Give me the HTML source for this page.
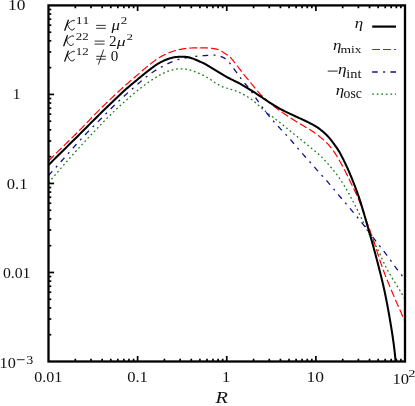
<!DOCTYPE html>
<html><head><meta charset="utf-8"><style>
html,body{margin:0;padding:0;background:#fff;}
body{width:415px;height:406px;overflow:hidden;position:relative;font-family:"Liberation Serif",serif;}
svg{position:absolute;left:0;top:0;will-change:transform;opacity:0.999;}
text{font-family:"Liberation Serif",serif;fill:#111;font-kerning:none;}
</style></head><body>
<svg width="415" height="406" viewBox="0 0 415 406">
<rect width="415" height="406" fill="#fff"/>
<defs><clipPath id="c"><rect x="48.5" y="5.4" width="356.5" height="356.1"/></clipPath></defs>
<g clip-path="url(#c)" fill="none" stroke-linejoin="round">
<path d="M48.50,182.70 L49.34,181.73 L50.17,180.75 L51.01,179.78 L51.84,178.81 L52.68,177.83 L53.51,176.86 L54.35,175.89 L55.18,174.91 L56.02,173.94 L56.85,172.97 L57.69,171.99 L58.53,171.02 L59.37,170.05 L60.20,169.08 L61.04,168.11 L61.88,167.14 L62.72,166.17 L63.56,165.20 L64.40,164.23 L65.25,163.26 L66.09,162.30 L66.94,161.33 L67.78,160.37 L68.63,159.40 L69.48,158.44 L70.33,157.48 L71.18,156.52 L72.03,155.56 L72.88,154.60 L73.74,153.64 L74.59,152.69 L75.45,151.74 L76.31,150.79 L77.18,149.84 L78.04,148.89 L78.90,147.94 L79.77,146.99 L80.64,146.05 L81.51,145.11 L82.38,144.17 L83.25,143.22 L84.13,142.29 L85.00,141.35 L85.88,140.41 L86.75,139.47 L87.63,138.54 L88.51,137.60 L89.39,136.67 L90.27,135.74 L91.15,134.80 L92.03,133.87 L92.91,132.94 L93.80,132.01 L94.68,131.08 L95.56,130.15 L96.45,129.21 L97.33,128.28 L98.21,127.36 L99.10,126.43 L99.99,125.50 L100.87,124.57 L101.76,123.65 L102.65,122.73 L103.55,121.80 L104.44,120.89 L105.34,119.97 L106.24,119.05 L107.14,118.14 L108.05,117.24 L108.96,116.33 L109.87,115.43 L110.79,114.53 L111.70,113.64 L112.63,112.74 L113.55,111.86 L114.48,110.97 L115.41,110.09 L116.35,109.21 L117.29,108.34 L118.23,107.46 L119.17,106.60 L120.12,105.73 L121.07,104.86 L122.02,104.00 L122.97,103.14 L123.93,102.29 L124.88,101.43 L125.84,100.58 L126.80,99.73 L127.76,98.88 L128.73,98.03 L129.69,97.19 L130.66,96.35 L131.63,95.51 L132.61,94.67 L133.59,93.84 L134.57,93.02 L135.55,92.19 L136.54,91.38 L137.53,90.56 L138.53,89.76 L139.54,88.96 L140.54,88.17 L141.56,87.38 L142.58,86.60 L143.60,85.82 L144.63,85.05 L145.66,84.29 L146.70,83.54 L147.74,82.79 L148.79,82.05 L149.85,81.32 L150.91,80.60 L151.97,79.89 L153.04,79.18 L154.12,78.48 L155.21,77.80 L156.30,77.13 L157.40,76.46 L158.50,75.81 L159.62,75.18 L160.74,74.56 L161.88,73.96 L163.02,73.38 L164.18,72.82 L165.34,72.28 L166.52,71.77 L167.72,71.30 L168.92,70.86 L170.14,70.46 L171.37,70.10 L172.62,69.78 L173.87,69.51 L175.13,69.28 L176.40,69.09 L177.68,68.94 L178.96,68.84 L180.24,68.79 L181.53,68.79 L182.81,68.84 L184.09,68.94 L185.37,69.08 L186.64,69.27 L187.90,69.51 L189.15,69.79 L190.39,70.12 L191.62,70.49 L192.84,70.90 L194.04,71.34 L195.24,71.79 L196.44,72.25 L197.64,72.72 L198.82,73.22 L199.99,73.73 L201.16,74.28 L202.31,74.85 L203.45,75.44 L204.58,76.04 L205.70,76.66 L206.82,77.30 L207.92,77.95 L209.01,78.62 L210.09,79.32 L211.16,80.03 L212.22,80.76 L213.27,81.48 L214.34,82.20 L215.42,82.89 L216.51,83.56 L217.62,84.21 L218.74,84.84 L219.87,85.45 L221.02,86.02 L222.18,86.56 L223.37,87.06 L224.57,87.50 L225.79,87.90 L227.02,88.26 L228.26,88.61 L229.49,88.95 L230.73,89.31 L231.96,89.67 L233.18,90.04 L234.41,90.43 L235.63,90.84 L236.84,91.27 L238.03,91.74 L239.21,92.25 L240.36,92.81 L241.49,93.40 L242.62,94.02 L243.74,94.65 L244.86,95.28 L245.98,95.91 L247.10,96.54 L248.20,97.20 L249.28,97.88 L250.34,98.60 L251.37,99.35 L252.39,100.13 L253.39,100.93 L254.38,101.75 L255.36,102.58 L256.33,103.43 L257.30,104.28 L258.27,105.13 L259.23,105.98 L260.20,106.83 L261.17,107.67 L262.15,108.50 L263.13,109.33 L264.11,110.16 L265.09,110.98 L266.08,111.79 L267.08,112.60 L268.08,113.40 L269.08,114.20 L270.09,114.99 L271.10,115.78 L272.12,116.56 L273.13,117.35 L274.15,118.13 L275.17,118.91 L276.19,119.69 L277.21,120.47 L278.22,121.25 L279.24,122.04 L280.25,122.83 L281.25,123.63 L282.26,124.43 L283.26,125.23 L284.25,126.04 L285.25,126.84 L286.24,127.66 L287.24,128.47 L288.23,129.28 L289.22,130.09 L290.22,130.90 L291.21,131.71 L292.20,132.52 L293.20,133.34 L294.19,134.15 L295.19,134.96 L296.18,135.77 L297.18,136.58 L298.17,137.39 L299.16,138.20 L300.15,139.02 L301.14,139.83 L302.13,140.65 L303.12,141.46 L304.11,142.28 L305.10,143.09 L306.10,143.91 L307.09,144.72 L308.09,145.52 L309.09,146.33 L310.09,147.13 L311.09,147.93 L312.10,148.73 L313.10,149.53 L314.10,150.34 L315.10,151.15 L316.08,151.97 L317.06,152.80 L318.03,153.64 L318.98,154.49 L319.92,155.36 L320.85,156.25 L321.77,157.15 L322.67,158.06 L323.56,158.98 L324.44,159.91 L325.32,160.85 L326.18,161.80 L327.04,162.76 L327.89,163.72 L328.73,164.69 L329.57,165.67 L330.41,166.64 L331.24,167.62 L332.06,168.61 L332.88,169.60 L333.69,170.59 L334.50,171.59 L335.29,172.60 L336.08,173.62 L336.85,174.64 L337.62,175.66 L338.37,176.70 L339.11,177.74 L339.85,178.80 L340.57,179.86 L341.28,180.92 L341.98,182.00 L342.67,183.08 L343.35,184.17 L344.02,185.26 L344.69,186.36 L345.35,187.46 L346.00,188.57 L346.64,189.68 L347.28,190.80 L347.91,191.92 L348.54,193.04 L349.16,194.16 L349.78,195.29 L350.39,196.41 L351.00,197.54 L351.61,198.68 L352.21,199.81 L352.81,200.94 L353.40,202.08 L353.99,203.22 L354.58,204.36 L355.17,205.50 L355.75,206.64 L356.33,207.79 L356.90,208.93 L357.47,210.08 L358.04,211.23 L358.61,212.38 L359.18,213.53 L359.74,214.69 L360.30,215.84 L360.86,217.00 L361.41,218.15 L361.96,219.31 L362.51,220.47 L363.06,221.63 L363.61,222.79 L364.16,223.95 L364.70,225.12 L365.25,226.28 L365.80,227.44 L366.36,228.59 L366.92,229.75 L367.49,230.90 L368.06,232.04 L368.65,233.19 L369.24,234.32 L369.85,235.45 L370.46,236.58 L371.09,237.69 L371.74,238.80 L372.39,239.91 L373.04,241.01 L373.70,242.12 L374.35,243.22 L375.00,244.33 L375.64,245.44 L376.26,246.56 L376.87,247.69 L377.46,248.83 L378.03,249.98 L378.59,251.13 L379.14,252.29 L379.68,253.45 L380.21,254.62 L380.73,255.79 L381.25,256.97 L381.77,258.14 L382.30,259.31 L382.82,260.49 L383.35,261.66 L383.88,262.82 L384.43,263.99 L384.98,265.14 L385.55,266.29 L386.13,267.44 L386.72,268.57 L387.32,269.70 L387.94,270.83 L388.57,271.95 L389.20,273.06 L389.85,274.17 L390.50,275.27 L391.16,276.38 L391.83,277.48 L392.50,278.57 L393.17,279.67 L393.85,280.76 L394.53,281.85 L395.21,282.94 L395.89,284.03 L396.57,285.12 L397.25,286.21 L397.93,287.30 L398.61,288.39 L399.28,289.49 L399.95,290.58 L400.61,291.68 L401.26,292.79 L401.91,293.89 L402.55,295.00 L403.18,296.12 L403.80,297.24 L404.40,298.37 L405.00,299.50" stroke="#127a12" stroke-width="1.28" stroke-dasharray="1.7 2.85"/>
<path d="M48.50,175.40 L49.37,174.47 L50.24,173.54 L51.11,172.61 L51.97,171.67 L52.83,170.74 L53.69,169.80 L54.55,168.85 L55.40,167.91 L56.25,166.96 L57.10,166.02 L57.95,165.07 L58.80,164.12 L59.64,163.16 L60.49,162.21 L61.33,161.26 L62.18,160.30 L63.02,159.35 L63.86,158.39 L64.70,157.43 L65.54,156.48 L66.38,155.52 L67.23,154.56 L68.07,153.61 L68.91,152.65 L69.75,151.69 L70.59,150.74 L71.44,149.78 L72.28,148.83 L73.13,147.88 L73.97,146.92 L74.82,145.97 L75.67,145.02 L76.52,144.08 L77.37,143.13 L78.23,142.19 L79.09,141.24 L79.94,140.30 L80.81,139.37 L81.67,138.43 L82.54,137.50 L83.41,136.57 L84.28,135.64 L85.15,134.72 L86.03,133.80 L86.92,132.88 L87.80,131.97 L88.69,131.05 L89.58,130.15 L90.48,129.24 L91.37,128.33 L92.27,127.43 L93.17,126.53 L94.07,125.63 L94.97,124.73 L95.87,123.83 L96.78,122.93 L97.68,122.03 L98.58,121.13 L99.48,120.23 L100.37,119.32 L101.27,118.42 L102.16,117.51 L103.06,116.61 L103.95,115.70 L104.85,114.79 L105.74,113.88 L106.64,112.98 L107.53,112.07 L108.43,111.17 L109.33,110.27 L110.23,109.37 L111.13,108.47 L112.04,107.58 L112.95,106.69 L113.86,105.80 L114.78,104.91 L115.69,104.03 L116.61,103.15 L117.54,102.27 L118.46,101.39 L119.39,100.52 L120.31,99.65 L121.25,98.78 L122.18,97.91 L123.12,97.05 L124.06,96.19 L125.00,95.34 L125.95,94.49 L126.90,93.64 L127.85,92.80 L128.81,91.96 L129.77,91.12 L130.73,90.28 L131.69,89.45 L132.65,88.61 L133.61,87.77 L134.57,86.93 L135.53,86.10 L136.48,85.26 L137.44,84.41 L138.39,83.57 L139.35,82.72 L140.30,81.88 L141.26,81.04 L142.22,80.20 L143.19,79.37 L144.16,78.54 L145.14,77.73 L146.13,76.93 L147.13,76.14 L148.14,75.36 L149.16,74.60 L150.19,73.86 L151.24,73.14 L152.30,72.43 L153.36,71.73 L154.44,71.05 L155.53,70.38 L156.62,69.73 L157.72,69.08 L158.82,68.44 L159.93,67.81 L161.04,67.19 L162.16,66.58 L163.28,65.98 L164.41,65.39 L165.54,64.80 L166.67,64.23 L167.82,63.67 L168.97,63.12 L170.12,62.59 L171.29,62.07 L172.47,61.58 L173.65,61.11 L174.85,60.67 L176.05,60.25 L177.26,59.85 L178.48,59.49 L179.71,59.16 L180.95,58.85 L182.19,58.57 L183.44,58.31 L184.69,58.06 L185.94,57.82 L187.19,57.59 L188.45,57.37 L189.70,57.16 L190.96,56.96 L192.22,56.78 L193.48,56.61 L194.75,56.47 L196.01,56.33 L197.28,56.21 L198.55,56.10 L199.82,55.99 L201.09,55.89 L202.36,55.79 L203.63,55.70 L204.90,55.60 L206.17,55.52 L207.44,55.43 L208.71,55.35 L209.98,55.28 L211.26,55.21 L212.53,55.17 L213.80,55.16 L215.07,55.20 L216.34,55.31 L217.61,55.50 L218.86,55.76 L220.09,56.10 L221.29,56.54 L222.46,57.05 L223.59,57.65 L224.66,58.33 L225.69,59.09 L226.67,59.91 L227.61,60.78 L228.50,61.70 L229.35,62.66 L230.16,63.64 L230.95,64.65 L231.71,65.67 L232.45,66.70 L233.18,67.74 L233.92,68.78 L234.65,69.82 L235.40,70.85 L236.14,71.89 L236.89,72.91 L237.65,73.94 L238.41,74.96 L239.16,75.99 L239.92,77.01 L240.69,78.03 L241.46,79.04 L242.23,80.05 L243.01,81.06 L243.80,82.06 L244.61,83.05 L245.42,84.03 L246.23,85.01 L247.05,85.99 L247.85,86.97 L248.65,87.96 L249.44,88.96 L250.21,89.98 L250.97,91.00 L251.71,92.03 L252.45,93.07 L253.17,94.11 L253.90,95.16 L254.61,96.22 L255.32,97.27 L256.04,98.33 L256.75,99.39 L257.46,100.45 L258.18,101.50 L258.90,102.55 L259.63,103.59 L260.37,104.63 L261.11,105.67 L261.86,106.70 L262.62,107.72 L263.38,108.74 L264.15,109.76 L264.93,110.77 L265.71,111.77 L266.50,112.77 L267.29,113.77 L268.09,114.76 L268.90,115.74 L269.71,116.72 L270.53,117.70 L271.35,118.67 L272.18,119.64 L273.01,120.60 L273.85,121.56 L274.70,122.52 L275.54,123.47 L276.40,124.41 L277.25,125.36 L278.11,126.29 L278.98,127.23 L279.85,128.16 L280.72,129.09 L281.60,130.01 L282.48,130.94 L283.35,131.86 L284.23,132.78 L285.11,133.71 L285.98,134.64 L286.85,135.57 L287.71,136.50 L288.57,137.44 L289.42,138.39 L290.26,139.35 L291.09,140.31 L291.92,141.28 L292.74,142.25 L293.56,143.23 L294.37,144.20 L295.19,145.18 L296.00,146.16 L296.82,147.14 L297.64,148.12 L298.46,149.09 L299.28,150.06 L300.11,151.03 L300.95,151.99 L301.79,152.94 L302.64,153.89 L303.49,154.84 L304.34,155.79 L305.19,156.73 L306.05,157.68 L306.90,158.63 L307.75,159.57 L308.60,160.52 L309.45,161.47 L310.30,162.42 L311.14,163.38 L311.98,164.33 L312.82,165.29 L313.66,166.25 L314.50,167.21 L315.34,168.16 L316.18,169.12 L317.02,170.07 L317.87,171.03 L318.72,171.97 L319.57,172.92 L320.43,173.86 L321.28,174.80 L322.14,175.74 L323.00,176.68 L323.86,177.62 L324.72,178.57 L325.57,179.51 L326.41,180.47 L327.25,181.42 L328.09,182.39 L328.92,183.35 L329.74,184.32 L330.56,185.29 L331.38,186.27 L332.20,187.25 L333.01,188.22 L333.83,189.20 L334.64,190.19 L335.45,191.17 L336.26,192.15 L337.08,193.13 L337.89,194.11 L338.71,195.09 L339.53,196.06 L340.35,197.04 L341.17,198.01 L341.99,198.98 L342.82,199.95 L343.64,200.92 L344.47,201.89 L345.29,202.86 L346.12,203.83 L346.95,204.80 L347.77,205.77 L348.60,206.74 L349.42,207.71 L350.25,208.68 L351.07,209.65 L351.89,210.62 L352.71,211.60 L353.53,212.57 L354.35,213.55 L355.16,214.53 L355.97,215.51 L356.78,216.49 L357.59,217.48 L358.39,218.47 L359.19,219.46 L359.98,220.45 L360.77,221.45 L361.56,222.45 L362.35,223.45 L363.13,224.46 L363.91,225.46 L364.69,226.47 L365.46,227.48 L366.24,228.49 L367.01,229.51 L367.78,230.52 L368.55,231.53 L369.32,232.55 L370.09,233.56 L370.86,234.58 L371.63,235.59 L372.40,236.60 L373.17,237.62 L373.95,238.63 L374.72,239.64 L375.50,240.65 L376.27,241.66 L377.05,242.67 L377.84,243.67 L378.62,244.68 L379.41,245.68 L380.19,246.68 L380.98,247.68 L381.77,248.68 L382.56,249.68 L383.34,250.69 L384.12,251.69 L384.90,252.70 L385.67,253.71 L386.44,254.73 L387.21,255.74 L387.96,256.77 L388.72,257.79 L389.47,258.82 L390.22,259.85 L390.96,260.89 L391.70,261.92 L392.45,262.96 L393.19,263.99 L393.94,265.02 L394.68,266.05 L395.43,267.08 L396.19,268.11 L396.95,269.13 L397.71,270.15 L398.49,271.16 L399.26,272.17 L400.05,273.17 L400.85,274.16 L401.66,275.15 L402.47,276.12 L403.30,277.09 L404.14,278.05 L405.00,279.00" stroke="#10108c" stroke-width="1.3" stroke-dasharray="5.6 5.3 2 5.3"/>
<path d="M48.50,161.00 L49.46,160.00 L50.43,159.01 L51.40,158.02 L52.37,157.03 L53.35,156.05 L54.33,155.07 L55.31,154.09 L56.29,153.12 L57.28,152.14 L58.27,151.17 L59.25,150.20 L60.24,149.23 L61.24,148.26 L62.23,147.29 L63.22,146.33 L64.22,145.36 L65.21,144.40 L66.20,143.43 L67.20,142.47 L68.19,141.50 L69.18,140.53 L70.17,139.56 L71.17,138.60 L72.16,137.63 L73.14,136.65 L74.13,135.68 L75.11,134.71 L76.10,133.73 L77.08,132.75 L78.05,131.77 L79.03,130.78 L80.00,129.79 L80.97,128.80 L81.93,127.81 L82.90,126.81 L83.86,125.81 L84.82,124.81 L85.78,123.81 L86.73,122.81 L87.69,121.81 L88.65,120.81 L89.61,119.81 L90.57,118.81 L91.53,117.81 L92.49,116.81 L93.45,115.81 L94.42,114.82 L95.39,113.83 L96.36,112.84 L97.33,111.86 L98.31,110.88 L99.29,109.90 L100.28,108.93 L101.27,107.96 L102.27,106.99 L103.26,106.03 L104.26,105.07 L105.27,104.12 L106.27,103.16 L107.27,102.21 L108.28,101.25 L109.28,100.29 L110.28,99.34 L111.28,98.38 L112.29,97.42 L113.29,96.47 L114.30,95.51 L115.30,94.56 L116.31,93.61 L117.32,92.66 L118.33,91.71 L119.35,90.77 L120.37,89.83 L121.39,88.89 L122.41,87.96 L123.44,87.03 L124.47,86.11 L125.51,85.19 L126.55,84.28 L127.60,83.37 L128.65,82.46 L129.70,81.56 L130.75,80.66 L131.80,79.76 L132.85,78.86 L133.91,77.96 L134.96,77.06 L136.01,76.15 L137.06,75.25 L138.11,74.34 L139.15,73.43 L140.20,72.52 L141.24,71.61 L142.29,70.70 L143.34,69.79 L144.39,68.89 L145.44,67.99 L146.50,67.10 L147.57,66.21 L148.64,65.33 L149.72,64.46 L150.81,63.60 L151.90,62.76 L153.01,61.92 L154.12,61.10 L155.25,60.29 L156.39,59.51 L157.55,58.74 L158.72,57.99 L159.90,57.27 L161.09,56.56 L162.30,55.89 L163.53,55.24 L164.77,54.62 L166.02,54.03 L167.29,53.47 L168.57,52.93 L169.86,52.42 L171.16,51.94 L172.47,51.49 L173.79,51.06 L175.12,50.65 L176.45,50.28 L177.79,49.94 L179.14,49.62 L180.50,49.34 L181.86,49.09 L183.23,48.86 L184.60,48.65 L185.98,48.47 L187.35,48.32 L188.73,48.18 L190.11,48.07 L191.50,47.98 L192.88,47.91 L194.26,47.86 L195.65,47.83 L197.03,47.81 L198.42,47.80 L199.81,47.80 L201.20,47.80 L202.58,47.81 L203.97,47.83 L205.36,47.86 L206.74,47.92 L208.12,47.99 L209.50,48.09 L210.88,48.22 L212.25,48.38 L213.63,48.57 L215.00,48.80 L216.37,49.07 L217.72,49.40 L219.03,49.85 L220.28,50.42 L221.47,51.12 L222.63,51.88 L223.79,52.66 L224.97,53.42 L226.15,54.16 L227.31,54.92 L228.44,55.71 L229.51,56.58 L230.50,57.53 L231.44,58.54 L232.34,59.60 L233.21,60.69 L234.07,61.79 L234.94,62.89 L235.80,63.98 L236.66,65.06 L237.51,66.15 L238.36,67.24 L239.20,68.34 L240.03,69.44 L240.86,70.56 L241.69,71.67 L242.52,72.78 L243.36,73.88 L244.21,74.97 L245.09,76.05 L245.97,77.11 L246.87,78.17 L247.76,79.23 L248.66,80.29 L249.54,81.35 L250.42,82.43 L251.29,83.50 L252.17,84.58 L253.04,85.66 L253.91,86.74 L254.78,87.81 L255.67,88.88 L256.56,89.94 L257.46,90.99 L258.38,92.03 L259.31,93.05 L260.26,94.06 L261.22,95.06 L262.20,96.04 L263.19,97.01 L264.19,97.97 L265.21,98.91 L266.24,99.84 L267.27,100.76 L268.32,101.67 L269.38,102.58 L270.44,103.47 L271.51,104.35 L272.59,105.22 L273.67,106.08 L274.77,106.93 L275.87,107.78 L276.97,108.61 L278.09,109.43 L279.21,110.25 L280.34,111.05 L281.47,111.85 L282.61,112.64 L283.75,113.42 L284.90,114.19 L286.06,114.96 L287.21,115.73 L288.37,116.49 L289.53,117.25 L290.69,118.01 L291.85,118.77 L293.01,119.52 L294.18,120.27 L295.35,121.01 L296.52,121.75 L297.70,122.47 L298.89,123.19 L300.08,123.90 L301.27,124.60 L302.47,125.29 L303.68,125.98 L304.88,126.67 L306.08,127.37 L307.27,128.07 L308.46,128.78 L309.64,129.51 L310.80,130.25 L311.96,131.01 L313.11,131.79 L314.25,132.58 L315.38,133.39 L316.49,134.21 L317.60,135.04 L318.70,135.89 L319.79,136.75 L320.87,137.62 L321.94,138.51 L323.00,139.42 L324.04,140.34 L325.06,141.28 L326.06,142.23 L327.05,143.21 L328.00,144.21 L328.94,145.23 L329.85,146.27 L330.73,147.34 L331.59,148.43 L332.42,149.53 L333.24,150.65 L334.03,151.79 L334.81,152.94 L335.57,154.10 L336.32,155.28 L337.05,156.46 L337.77,157.65 L338.48,158.85 L339.18,160.05 L339.87,161.25 L340.55,162.46 L341.22,163.67 L341.89,164.89 L342.55,166.11 L343.20,167.33 L343.84,168.56 L344.48,169.79 L345.11,171.02 L345.73,172.26 L346.35,173.50 L346.96,174.74 L347.57,175.99 L348.17,177.23 L348.77,178.48 L349.38,179.73 L349.98,180.97 L350.59,182.22 L351.21,183.46 L351.82,184.71 L352.43,185.95 L353.04,187.19 L353.65,188.44 L354.25,189.69 L354.85,190.94 L355.44,192.19 L356.02,193.45 L356.58,194.71 L357.14,195.98 L357.69,197.25 L358.22,198.53 L358.74,199.81 L359.25,201.10 L359.76,202.39 L360.25,203.68 L360.74,204.98 L361.23,206.28 L361.70,207.58 L362.18,208.88 L362.65,210.19 L363.11,211.50 L363.58,212.80 L364.04,214.11 L364.50,215.42 L364.96,216.73 L365.43,218.03 L365.89,219.34 L366.36,220.64 L366.83,221.95 L367.30,223.25 L367.78,224.56 L368.25,225.86 L368.72,227.16 L369.20,228.46 L369.67,229.77 L370.14,231.07 L370.61,232.37 L371.08,233.67 L371.55,234.98 L372.01,236.28 L372.47,237.59 L372.93,238.90 L373.38,240.21 L373.83,241.52 L374.28,242.83 L374.71,244.14 L375.15,245.46 L375.58,246.78 L376.00,248.09 L376.43,249.41 L376.85,250.73 L377.27,252.06 L377.69,253.38 L378.11,254.70 L378.53,256.02 L378.95,257.34 L379.38,258.66 L379.80,259.97 L380.24,261.29 L380.67,262.61 L381.11,263.92 L381.56,265.23 L382.01,266.54 L382.48,267.85 L382.94,269.15 L383.42,270.45 L383.90,271.75 L384.39,273.05 L384.88,274.34 L385.38,275.63 L385.89,276.92 L386.40,278.21 L386.91,279.50 L387.43,280.79 L387.95,282.07 L388.48,283.35 L389.01,284.63 L389.54,285.91 L390.08,287.19 L390.61,288.47 L391.15,289.75 L391.69,291.02 L392.24,292.30 L392.78,293.57 L393.33,294.85 L393.87,296.12 L394.42,297.39 L394.97,298.66 L395.52,299.94 L396.07,301.21 L396.62,302.48 L397.18,303.75 L397.73,305.02 L398.29,306.29 L398.84,307.56 L399.40,308.83 L399.96,310.09 L400.52,311.36 L401.08,312.63 L401.63,313.90 L402.19,315.16 L402.75,316.43 L403.32,317.70 L403.88,318.97 L404.44,320.23 L405.00,321.50" stroke="#ff0000" stroke-width="1.18" stroke-dasharray="7.8 3.0"/>
<path d="M48.50,165.00 L49.53,163.97 L50.56,162.95 L51.59,161.93 L52.62,160.90 L53.65,159.88 L54.68,158.86 L55.72,157.84 L56.75,156.82 L57.78,155.80 L58.82,154.78 L59.85,153.76 L60.89,152.74 L61.92,151.73 L62.96,150.71 L63.99,149.69 L65.03,148.67 L66.07,147.65 L67.10,146.63 L68.14,145.62 L69.17,144.60 L70.21,143.58 L71.24,142.56 L72.27,141.54 L73.31,140.52 L74.34,139.50 L75.38,138.48 L76.41,137.46 L77.44,136.44 L78.47,135.41 L79.50,134.39 L80.53,133.37 L81.56,132.34 L82.59,131.31 L83.61,130.29 L84.64,129.26 L85.66,128.23 L86.69,127.20 L87.71,126.17 L88.73,125.14 L89.76,124.11 L90.78,123.08 L91.81,122.05 L92.83,121.02 L93.86,119.99 L94.88,118.97 L95.91,117.94 L96.94,116.92 L97.97,115.90 L99.01,114.88 L100.04,113.86 L101.08,112.84 L102.12,111.83 L103.16,110.82 L104.21,109.81 L105.25,108.80 L106.30,107.80 L107.35,106.79 L108.39,105.78 L109.44,104.78 L110.49,103.77 L111.54,102.77 L112.59,101.76 L113.63,100.76 L114.68,99.75 L115.73,98.74 L116.77,97.73 L117.82,96.73 L118.87,95.72 L119.92,94.72 L120.98,93.73 L122.04,92.74 L123.11,91.75 L124.18,90.77 L125.27,89.81 L126.35,88.85 L127.45,87.89 L128.55,86.95 L129.66,86.01 L130.77,85.07 L131.88,84.14 L133.00,83.21 L134.12,82.28 L135.24,81.36 L136.36,80.43 L137.48,79.51 L138.59,78.58 L139.71,77.65 L140.83,76.73 L141.95,75.80 L143.07,74.88 L144.20,73.96 L145.33,73.05 L146.46,72.14 L147.60,71.24 L148.74,70.34 L149.89,69.45 L151.04,68.57 L152.21,67.70 L153.38,66.84 L154.57,66.01 L155.77,65.19 L156.99,64.41 L158.23,63.65 L159.49,62.91 L160.76,62.21 L162.05,61.54 L163.35,60.90 L164.67,60.29 L166.01,59.72 L167.36,59.19 L168.73,58.70 L170.12,58.27 L171.52,57.89 L172.94,57.57 L174.37,57.30 L175.80,57.09 L177.25,56.92 L178.69,56.81 L180.15,56.73 L181.60,56.70 L183.05,56.70 L184.51,56.76 L185.95,56.89 L187.39,57.11 L188.81,57.39 L190.23,57.75 L191.62,58.16 L193.00,58.63 L194.36,59.14 L195.70,59.69 L197.02,60.28 L198.35,60.88 L199.67,61.49 L201.00,62.07 L202.33,62.66 L203.64,63.27 L204.94,63.93 L206.21,64.63 L207.46,65.37 L208.69,66.13 L209.93,66.90 L211.16,67.67 L212.40,68.44 L213.63,69.20 L214.87,69.96 L216.11,70.71 L217.35,71.47 L218.59,72.22 L219.84,72.96 L221.09,73.70 L222.34,74.44 L223.60,75.17 L224.86,75.89 L226.13,76.60 L227.40,77.30 L228.68,77.98 L229.97,78.65 L231.27,79.30 L232.57,79.94 L233.88,80.58 L235.18,81.22 L236.48,81.86 L237.78,82.52 L239.07,83.18 L240.35,83.87 L241.62,84.57 L242.88,85.29 L244.13,86.03 L245.38,86.77 L246.62,87.53 L247.86,88.29 L249.09,89.06 L250.32,89.83 L251.55,90.60 L252.78,91.38 L254.00,92.17 L255.22,92.95 L256.44,93.75 L257.65,94.54 L258.86,95.34 L260.07,96.15 L261.28,96.95 L262.49,97.76 L263.69,98.57 L264.90,99.38 L266.11,100.19 L267.32,100.99 L268.53,101.79 L269.75,102.58 L270.97,103.37 L272.19,104.15 L273.43,104.92 L274.66,105.68 L275.91,106.42 L277.16,107.16 L278.42,107.88 L279.69,108.59 L280.96,109.29 L282.25,109.97 L283.54,110.63 L284.83,111.29 L286.13,111.93 L287.44,112.57 L288.75,113.20 L290.06,113.82 L291.38,114.43 L292.70,115.04 L294.02,115.65 L295.34,116.25 L296.66,116.85 L297.98,117.45 L299.30,118.06 L300.62,118.66 L301.94,119.27 L303.26,119.88 L304.57,120.49 L305.88,121.12 L307.19,121.75 L308.49,122.39 L309.79,123.05 L311.08,123.72 L312.37,124.41 L313.64,125.12 L314.90,125.85 L316.14,126.61 L317.36,127.39 L318.55,128.21 L319.73,129.06 L320.88,129.95 L322.00,130.87 L323.11,131.81 L324.20,132.78 L325.27,133.76 L326.31,134.77 L327.34,135.80 L328.33,136.86 L329.30,137.94 L330.23,139.05 L331.14,140.19 L332.03,141.34 L332.90,142.50 L333.76,143.67 L334.62,144.85 L335.47,146.03 L336.31,147.21 L337.13,148.41 L337.93,149.62 L338.71,150.85 L339.45,152.09 L340.17,153.35 L340.87,154.63 L341.54,155.91 L342.20,157.21 L342.86,158.51 L343.50,159.81 L344.14,161.11 L344.78,162.42 L345.41,163.73 L346.03,165.04 L346.64,166.35 L347.25,167.67 L347.84,169.00 L348.43,170.33 L349.01,171.66 L349.59,172.99 L350.15,174.33 L350.71,175.67 L351.27,177.01 L351.82,178.36 L352.36,179.70 L352.90,181.05 L353.44,182.40 L353.97,183.76 L354.49,185.11 L355.02,186.47 L355.53,187.82 L356.04,189.18 L356.54,190.55 L357.04,191.91 L357.53,193.28 L358.01,194.65 L358.49,196.02 L358.96,197.39 L359.42,198.77 L359.88,200.15 L360.33,201.53 L360.77,202.91 L361.20,204.30 L361.63,205.69 L362.05,207.08 L362.47,208.47 L362.88,209.86 L363.29,211.25 L363.70,212.65 L364.11,214.04 L364.51,215.44 L364.91,216.83 L365.31,218.23 L365.71,219.63 L366.11,221.02 L366.51,222.42 L366.91,223.82 L367.31,225.21 L367.71,226.61 L368.11,228.00 L368.50,229.40 L368.90,230.80 L369.30,232.19 L369.70,233.59 L370.10,234.99 L370.49,236.38 L370.89,237.78 L371.28,239.18 L371.67,240.58 L372.07,241.97 L372.45,243.37 L372.84,244.77 L373.23,246.17 L373.61,247.57 L373.99,248.98 L374.37,250.38 L374.75,251.78 L375.13,253.18 L375.50,254.58 L375.87,255.99 L376.25,257.39 L376.62,258.80 L376.98,260.20 L377.35,261.61 L377.72,263.01 L378.08,264.42 L378.44,265.82 L378.80,267.23 L379.16,268.64 L379.52,270.05 L379.88,271.45 L380.23,272.86 L380.58,274.27 L380.93,275.68 L381.28,277.09 L381.63,278.50 L381.97,279.91 L382.31,281.33 L382.64,282.74 L382.97,284.15 L383.30,285.57 L383.62,286.98 L383.94,288.40 L384.25,289.82 L384.56,291.24 L384.86,292.66 L385.16,294.08 L385.45,295.50 L385.74,296.92 L386.02,298.35 L386.31,299.77 L386.58,301.20 L386.86,302.62 L387.13,304.05 L387.40,305.48 L387.66,306.91 L387.93,308.34 L388.19,309.76 L388.45,311.19 L388.70,312.62 L388.96,314.05 L389.21,315.48 L389.46,316.91 L389.71,318.35 L389.96,319.78 L390.20,321.21 L390.45,322.64 L390.69,324.07 L390.93,325.50 L391.16,326.94 L391.40,328.37 L391.62,329.81 L391.85,331.24 L392.07,332.67 L392.29,334.11 L392.51,335.55 L392.72,336.98 L392.93,338.42 L393.14,339.86 L393.34,341.29 L393.53,342.73 L393.72,344.17 L393.91,345.61 L394.09,347.05 L394.27,348.49 L394.44,349.94 L394.60,351.38 L394.76,352.82 L394.92,354.27 L395.07,355.71 L395.21,357.16 L395.35,358.60 L395.48,360.05 L395.60,361.50" stroke="#000" stroke-width="2.05"/>
</g>
<g stroke="#000" stroke-width="1.7" fill="none">
<path d="M75.33,361.5 v-2.8 M75.33,5.4 v2.8"/>
<path d="M48.5,334.70 h2.8"/>
<path d="M91.02,361.5 v-2.8 M91.02,5.4 v2.8"/>
<path d="M48.5,319.02 h2.8"/>
<path d="M102.16,361.5 v-2.8 M102.16,5.4 v2.8"/>
<path d="M48.5,307.90 h2.8"/>
<path d="M110.80,361.5 v-2.8 M110.80,5.4 v2.8"/>
<path d="M48.5,299.27 h2.8"/>
<path d="M117.85,361.5 v-2.8 M117.85,5.4 v2.8"/>
<path d="M48.5,292.23 h2.8"/>
<path d="M123.82,361.5 v-2.8 M123.82,5.4 v2.8"/>
<path d="M48.5,286.27 h2.8"/>
<path d="M128.99,361.5 v-2.8 M128.99,5.4 v2.8"/>
<path d="M48.5,281.10 h2.8"/>
<path d="M133.55,361.5 v-2.8 M133.55,5.4 v2.8"/>
<path d="M48.5,276.55 h2.8"/>
<path d="M137.62,361.5 v-5.6 M137.62,5.4 v5.6"/>
<path d="M48.5,272.48 h5.6"/>
<path d="M164.45,361.5 v-2.8 M164.45,5.4 v2.8"/>
<path d="M48.5,245.68 h2.8"/>
<path d="M180.15,361.5 v-2.8 M180.15,5.4 v2.8"/>
<path d="M48.5,230.00 h2.8"/>
<path d="M191.28,361.5 v-2.8 M191.28,5.4 v2.8"/>
<path d="M48.5,218.88 h2.8"/>
<path d="M199.92,361.5 v-2.8 M199.92,5.4 v2.8"/>
<path d="M48.5,210.25 h2.8"/>
<path d="M206.98,361.5 v-2.8 M206.98,5.4 v2.8"/>
<path d="M48.5,203.20 h2.8"/>
<path d="M212.94,361.5 v-2.8 M212.94,5.4 v2.8"/>
<path d="M48.5,197.24 h2.8"/>
<path d="M218.11,361.5 v-2.8 M218.11,5.4 v2.8"/>
<path d="M48.5,192.08 h2.8"/>
<path d="M222.67,361.5 v-2.8 M222.67,5.4 v2.8"/>
<path d="M48.5,187.52 h2.8"/>
<path d="M226.75,361.5 v-5.6 M226.75,5.4 v5.6"/>
<path d="M48.5,183.45 h5.6"/>
<path d="M253.58,361.5 v-2.8 M253.58,5.4 v2.8"/>
<path d="M48.5,156.65 h2.8"/>
<path d="M269.27,361.5 v-2.8 M269.27,5.4 v2.8"/>
<path d="M48.5,140.97 h2.8"/>
<path d="M280.41,361.5 v-2.8 M280.41,5.4 v2.8"/>
<path d="M48.5,129.85 h2.8"/>
<path d="M289.05,361.5 v-2.8 M289.05,5.4 v2.8"/>
<path d="M48.5,121.22 h2.8"/>
<path d="M296.10,361.5 v-2.8 M296.10,5.4 v2.8"/>
<path d="M48.5,114.18 h2.8"/>
<path d="M302.07,361.5 v-2.8 M302.07,5.4 v2.8"/>
<path d="M48.5,108.22 h2.8"/>
<path d="M307.24,361.5 v-2.8 M307.24,5.4 v2.8"/>
<path d="M48.5,103.05 h2.8"/>
<path d="M311.80,361.5 v-2.8 M311.80,5.4 v2.8"/>
<path d="M48.5,98.50 h2.8"/>
<path d="M315.88,361.5 v-5.6 M315.88,5.4 v5.6"/>
<path d="M48.5,94.42 h5.6"/>
<path d="M342.70,361.5 v-2.8 M342.70,5.4 v2.8"/>
<path d="M48.5,67.63 h2.8"/>
<path d="M358.40,361.5 v-2.8 M358.40,5.4 v2.8"/>
<path d="M48.5,51.95 h2.8"/>
<path d="M369.53,361.5 v-2.8 M369.53,5.4 v2.8"/>
<path d="M48.5,40.83 h2.8"/>
<path d="M378.17,361.5 v-2.8 M378.17,5.4 v2.8"/>
<path d="M48.5,32.20 h2.8"/>
<path d="M385.23,361.5 v-2.8 M385.23,5.4 v2.8"/>
<path d="M48.5,25.15 h2.8"/>
<path d="M391.19,361.5 v-2.8 M391.19,5.4 v2.8"/>
<path d="M48.5,19.19 h2.8"/>
<path d="M396.36,361.5 v-2.8 M396.36,5.4 v2.8"/>
<path d="M48.5,14.03 h2.8"/>
<path d="M400.92,361.5 v-2.8 M400.92,5.4 v2.8"/>
<path d="M48.5,9.47 h2.8"/>
</g>
<rect x="48.5" y="5.4" width="356.5" height="356.1" fill="none" stroke="#000" stroke-width="2.3"/>
<!-- legend -->
<g fill="none">
<path d="M372.2,26.6 H396" stroke="#000" stroke-width="2.2"/>
<path d="M372.2,49.5 H396" stroke="#ff0000" stroke-width="1.18" stroke-dasharray="7.8 3.0"/>
<path d="M372.2,72.0 H396" stroke="#10108c" stroke-width="1.3" stroke-dasharray="5.6 5.3 2 5.3"/>
<path d="M372.2,94.1 H396" stroke="#127a12" stroke-width="1.28" stroke-dasharray="1.7 2.85"/>
</g>
<!-- tick labels -->
<text transform="translate(7.97,10.0) scale(1.216,1)" font-size="14.30">10</text>
<text transform="translate(12.75,98.9) scale(1.073,1)" font-size="14.30">1</text>
<text transform="translate(6.77,188.6) scale(1.166,1)" font-size="14.30">0.1</text>
<text transform="translate(2.90,277.9) scale(1.105,1)" font-size="14.30">0.01</text>
<text transform="translate(-0.43,368.3) scale(1.136,1)" font-size="14.30">10</text>
<path d="M16.9,359.7 H24.6" stroke="#111" stroke-width="0.9"/>
<text transform="translate(26.33,363.5) scale(1.192,1)" font-size="11.78">3</text>
<text transform="translate(34.29,381.9) scale(1.122,1)" font-size="14.30">0.01</text>
<text transform="translate(127.17,381.9) scale(1.160,1)" font-size="14.30">0.1</text>
<text transform="translate(222.05,381.9) scale(1.152,1)" font-size="14.30">1</text>
<text transform="translate(306.46,382.1) scale(1.224,1)" font-size="14.30">10</text>
<text transform="translate(392.44,384.0) scale(1.160,1)" font-size="14.30">10</text>
<text transform="translate(408.16,377.3) scale(1.330,1)" font-size="10.87">2</text>
<text transform="translate(215.51,403.4) scale(1.281,1)" font-size="15.88" font-style="italic">R</text>
<text transform="translate(354.70,28.4) scale(1.248,1)" font-size="13.58" font-style="italic">η</text>
<text transform="translate(332.90,50.0) scale(1.229,1)" font-size="13.79" font-style="italic">η</text>
<text transform="translate(340.52,53.4) scale(1.262,1)" font-size="10.72">mix</text>
<path d="M327.7,71.1 H337.7" stroke="#111" stroke-width="0.9"/>
<text transform="translate(338.08,74.2) scale(1.263,1)" font-size="13.79" font-style="italic">η</text>
<text transform="translate(346.30,77.6) scale(1.121,1)" font-size="12.84">int</text>
<text transform="translate(335.80,94.7) scale(1.229,1)" font-size="13.79" font-style="italic">η</text>
<text transform="translate(343.58,98.0) scale(0.977,1)" font-size="14.01">osc</text>
<g transform="translate(64.4,30.3)" fill="none" stroke="#111" stroke-linecap="round" stroke-linejoin="round"><path d="M3.9,-10.1 L0.4,-0.1" stroke-width="1.35"/><path d="M2.3,-5.2 C4.6,-7.2 7.4,-10.1 9.6,-10.1 C10.3,-10.1 10.2,-9.4 9.8,-9.1" stroke-width="0.9"/><path d="M3.1,-6.0 C4.0,-3.0 5.6,-0.3 7.8,-0.3 C8.9,-0.3 9.6,-1.0 9.9,-1.9" stroke-width="1.0"/></g>
<text transform="translate(75.70,24.1) scale(1.427,1)" font-size="9.54">11</text>
<g transform="translate(63.4,45.8)" fill="none" stroke="#111" stroke-linecap="round" stroke-linejoin="round"><path d="M3.9,-10.1 L0.4,-0.1" stroke-width="1.35"/><path d="M2.3,-5.2 C4.6,-7.2 7.4,-10.1 9.6,-10.1 C10.3,-10.1 10.2,-9.4 9.8,-9.1" stroke-width="0.9"/><path d="M3.1,-6.0 C4.0,-3.0 5.6,-0.3 7.8,-0.3 C8.9,-0.3 9.6,-1.0 9.9,-1.9" stroke-width="1.0"/></g>
<text transform="translate(75.73,39.599999999999994) scale(1.353,1)" font-size="9.52">22</text>
<g transform="translate(64.4,61.2)" fill="none" stroke="#111" stroke-linecap="round" stroke-linejoin="round"><path d="M3.9,-10.1 L0.4,-0.1" stroke-width="1.35"/><path d="M2.3,-5.2 C4.6,-7.2 7.4,-10.1 9.6,-10.1 C10.3,-10.1 10.2,-9.4 9.8,-9.1" stroke-width="0.9"/><path d="M3.1,-6.0 C4.0,-3.0 5.6,-0.3 7.8,-0.3 C8.9,-0.3 9.6,-1.0 9.9,-1.9" stroke-width="1.0"/></g>
<text transform="translate(75.77,55.0) scale(1.349,1)" font-size="9.52">12</text>
<path d="M96.2,25.4 H105.8 M96.2,28.3 H105.8" stroke="#111" stroke-width="0.85" fill="none"/>
<text transform="translate(111.42,30.4) scale(1.206,1)" font-size="13.94" font-style="italic">μ</text>
<text transform="translate(120.63,24.0) scale(1.385,1)" font-size="9.36">2</text>
<path d="M94.6,41.1 H104.6 M94.6,44.1 H104.6" stroke="#111" stroke-width="0.85" fill="none"/>
<text transform="translate(109.03,45.8) scale(1.072,1)" font-size="14.20">2</text>
<text transform="translate(116.82,46.2) scale(1.308,1)" font-size="13.51" font-style="italic">μ</text>
<text transform="translate(126.43,40.0) scale(1.408,1)" font-size="9.21">2</text>
<path d="M96.2,56.3 H105.8 M96.2,59.2 H105.8 M103.6,49.6 L98.4,64.6" stroke="#111" stroke-width="0.85" fill="none"/>
<text transform="translate(110.82,61.3) scale(1.057,1)" font-size="14.28">0</text>
</svg>
</body></html>
